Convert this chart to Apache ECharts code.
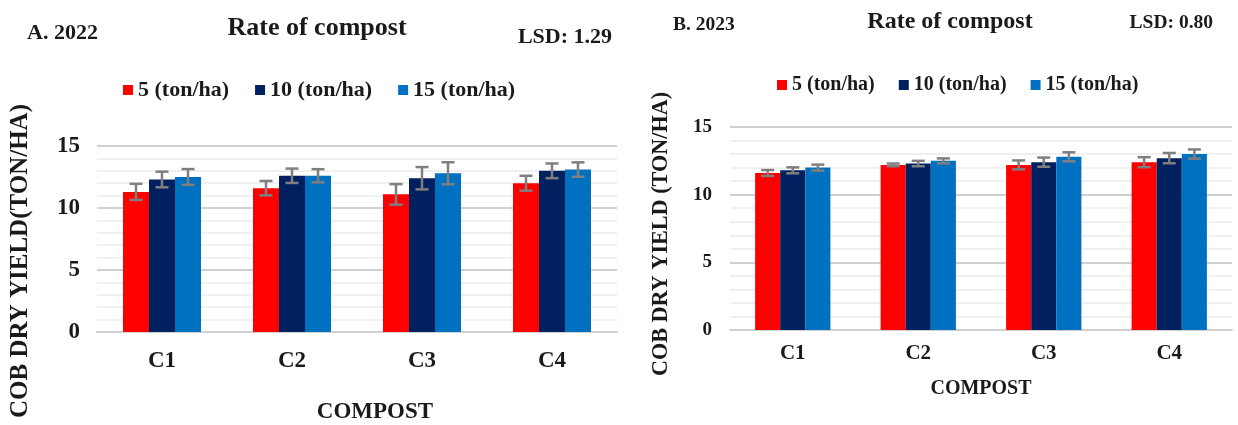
<!DOCTYPE html>
<html>
<head>
<meta charset="utf-8">
<script src="https://cdn.jsdelivr.net/npm/echarts@6/dist/echarts.min.js"></script>
<style>
html,body{margin:0;padding:0;background:#fff;}
#chart{width:1238px;height:425px;}
</style>
</head>
<body>
<div id="chart"></div>
<script>
// ---- data ----
var categories = ['C1', 'C2', 'C3', 'C4'];
var seriesNames = ['5 (ton/ha)', '10 (ton/ha)', '15 (ton/ha)'];
var yTicks = [0, 5, 10, 15];

var y2022_5  = [11.3, 11.6, 11.1, 12.0];
var y2022_10 = [12.3, 12.6, 12.4, 13.0];
var y2022_15 = [12.5, 12.6, 12.8, 13.1];
var err2022_5  = [0.65, 0.58, 0.83, 0.60];
var err2022_10 = [0.63, 0.58, 0.90, 0.59];
var err2022_15 = [0.64, 0.53, 0.89, 0.58];

var y2023_5  = [11.6, 12.2, 12.2, 12.4];
var y2023_10 = [11.8, 12.3, 12.4, 12.7];
var y2023_15 = [12.0, 12.5, 12.8, 13.0];
var err2023_5  = [0.22, 0.10, 0.33, 0.37];
var err2023_10 = [0.22, 0.20, 0.34, 0.38];
var err2023_15 = [0.22, 0.18, 0.33, 0.34];

// ---- styling ----
var colors = ['#FF0000', '#002060', '#0070C0'];
var FONT = '"Liberation Serif", "Times New Roman", serif';

var chart = echarts.init(document.getElementById('chart'));

function errSeries(gridIdx, idx, means, errs) {
  return {
    type: 'custom',
    xAxisIndex: gridIdx, yAxisIndex: gridIdx,
    silent: true, z: 10,
    encode: {x: 0, y: 1},
    data: means.map(function (m, i) { return [i, m, errs[i]]; }),
    renderItem: function (params, api) {
      var cat = api.value(0), m = api.value(1), e = api.value(2);
      var band = api.size([1, 0])[0];
      var bw = band * 0.6 / 3;
      var x = api.coord([cat, m])[0] + (idx - 1) * bw;
      var top = api.coord([cat, m + e])[1];
      var bot = api.coord([cat, m - e])[1];
      var cap = 6.5;
      var st = {stroke: '#7F7F7F', lineWidth: 2.5};
      return {
        type: 'group',
        children: [
          {type: 'line', shape: {x1: x, y1: top, x2: x, y2: bot}, style: st},
          {type: 'line', shape: {x1: x - cap, y1: top, x2: x + cap, y2: top}, style: st},
          {type: 'line', shape: {x1: x - cap, y1: bot, x2: x + cap, y2: bot}, style: st}
        ]
      };
    }
  };
}

function barSeries(gridIdx, idx, values) {
  return {
    name: seriesNames[idx],
    type: 'bar',
    xAxisIndex: gridIdx, yAxisIndex: gridIdx,
    barGap: '0%', barCategoryGap: '40%',
    itemStyle: {color: colors[idx]},
    data: values
  };
}

function yAxisCfg(gridIdx, fontSize, margin) {
  return {
    type: 'value', gridIndex: gridIdx, min: 0, max: 15, interval: 5,
    axisLine: {show: false}, axisTick: {show: false},
    axisLabel: {fontFamily: FONT, fontWeight: 'bold', fontSize: fontSize, color: '#1a1a1a', margin: margin,
      formatter: function (v) { return yTicks.indexOf(v) >= 0 ? String(v) : ''; }},
    splitLine: {show: true, lineStyle: {color: '#D0D0D0', width: 2}},
    minorTick: {show: false, splitNumber: 5},
    minorSplitLine: {show: true, lineStyle: {color: '#EBEBEB', width: 1.5}}
  };
}

function xAxisCfg(gridIdx, fontSize, margin, nameGap, nameSize, namePad) {
  return {
    type: 'category', gridIndex: gridIdx, data: categories,
    axisLine: {show: true, lineStyle: {color: '#D0D0D0', width: 2}},
    axisTick: {show: false},
    axisLabel: {fontFamily: FONT, fontWeight: 'bold', fontSize: fontSize, color: '#1a1a1a', margin: margin},
    name: 'COMPOST', nameLocation: 'middle', nameGap: nameGap,
    nameTextStyle: {fontFamily: FONT, fontWeight: 'bold', fontSize: nameSize, color: '#1a1a1a', padding: namePad}
  };
}

function txt(text, x, y, size, align, rot) {
  return {
    type: 'text', x: x, y: y, rotation: rot || 0,
    style: {text: text, font: 'bold ' + size + 'px ' + FONT, fill: '#1a1a1a',
      textAlign: align || 'center', textVerticalAlign: 'middle'}
  };
}

var option = {
  backgroundColor: '#ffffff',
  animation: false,
  grid: [
    {left: 97, right: 621, top: 146, bottom: 93},
    {left: 730, right: 6, top: 127, bottom: 95}
  ],
  legend: [
    {data: seriesNames, left: 123, top: 79, padding: 0, itemWidth: 10, itemHeight: 10, itemGap: 26,
      icon: 'rect', textStyle: {fontFamily: FONT, fontWeight: 'bold', fontSize: 22, color: '#1a1a1a'}},
    {data: seriesNames, left: 777, top: 75, padding: 0, itemWidth: 10, itemHeight: 10, itemGap: 24,
      icon: 'rect', textStyle: {fontFamily: FONT, fontWeight: 'bold', fontSize: 20, color: '#1a1a1a'}}
  ],
  xAxis: [
    xAxisCfg(0, 23, 18, 69, 23, [0, 0, 0, 36]),
    xAxisCfg(1, 21, 13, 49, 20, [0, 0, 0, 0])
  ],
  yAxis: [
    yAxisCfg(0, 23, 17),
    yAxisCfg(1, 19, 18)
  ],
  graphic: [
    txt('A. 2022', 27, 33, 22, 'left'),
    txt('Rate of compost', 317, 28, 26, 'center'),
    txt('LSD: 1.29', 612, 37, 22, 'right'),
    txt('B. 2023', 673, 25, 19.5, 'left'),
    txt('Rate of compost', 950, 22, 24, 'center'),
    txt('LSD: 0.80', 1213, 23, 19.5, 'right'),
    txt('COB DRY YIELD(TON/HA)', 21, 261, 25, 'center', Math.PI / 2),
    txt('COB DRY YIELD (TON/HA)', 661, 234, 22.2, 'center', Math.PI / 2)
  ],
  series: [
    barSeries(0, 0, y2022_5), barSeries(0, 1, y2022_10), barSeries(0, 2, y2022_15),
    barSeries(1, 0, y2023_5), barSeries(1, 1, y2023_10), barSeries(1, 2, y2023_15),
    errSeries(0, 0, y2022_5, err2022_5), errSeries(0, 1, y2022_10, err2022_10), errSeries(0, 2, y2022_15, err2022_15),
    errSeries(1, 0, y2023_5, err2023_5), errSeries(1, 1, y2023_10, err2023_10), errSeries(1, 2, y2023_15, err2023_15)
  ]
};
chart.setOption(option);
</script>
</body>
</html>
